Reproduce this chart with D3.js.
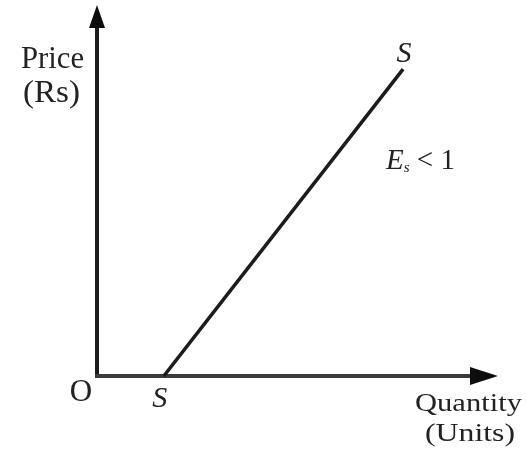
<!DOCTYPE html>
<html>
<head>
<meta charset="utf-8">
<script src="https://cdn.jsdelivr.net/npm/d3@7"></script>
<style>
  html, body { margin: 0; padding: 0; background: #fff; }
  svg { display: block; }
  text { font-family: "Liberation Serif", "DejaVu Serif", serif; fill: #222; }
</style>
</head>
<body>
<svg id="chart" width="527" height="451"></svg>
<script>
// Supply curve S–S (quantity, price) in arbitrary units
const supplyQuantity = [2, 9.16];
const supplyPrice = [0, 9.1];
const quantityDomain = [0, 12];
const priceDomain = [0, 11];
const axisTitles = { y: ["Price", "(Rs)"], x: ["Quantity", "(Units)"] };

const svg = d3.select("#chart");
const origin = { x: 97, y: 376 };

const x = d3.scaleLinear().domain(quantityDomain).range([origin.x, 498]);
const y = d3.scaleLinear().domain(priceDomain).range([origin.y, 5]);

const defs = svg.append("defs");
defs.append("filter").attr("id", "soft")
  .append("feGaussianBlur").attr("stdDeviation", 0.5);

const g = svg.append("g").attr("filter", "url(#soft)");

// Axes
g.append("line")
  .attr("x1", x(0)).attr("y1", y(0) + 2)
  .attr("x2", x(0)).attr("y2", y(priceDomain[1]) + 18)
  .attr("stroke", "#1a1a1a").attr("stroke-width", 4);
g.append("line")
  .attr("x1", x(0) - 2).attr("y1", y(0))
  .attr("x2", x(quantityDomain[1]) - 22).attr("y2", y(0))
  .attr("stroke", "#3a3a3a").attr("stroke-width", 4);

// Arrow heads
const ty = y(priceDomain[1]), tx = x(0);
g.append("path")
  .attr("d", `M${tx},${ty} L${tx - 8},${ty + 23} L${tx + 8},${ty + 23} Z`)
  .attr("fill", "#111");
const ax = x(quantityDomain[1]), ay = y(0);
g.append("path")
  .attr("d", `M${ax},${ay} L${ax - 28},${ay - 9} L${ax - 28},${ay + 9} Z`)
  .attr("fill", "#111");

// Supply line
const pts = supplyQuantity.map((q, i) => [x(q), y(supplyPrice[i])]);
g.append("path")
  .attr("d", d3.line()(pts))
  .attr("stroke", "#1a1a1a").attr("stroke-width", 3.5).attr("fill", "none");

// Axis titles
const ytitle = g.append("text").attr("font-size", 31);
ytitle.append("tspan").attr("x", 21).attr("y", 68)
  .attr("textLength", 63).attr("lengthAdjust", "spacingAndGlyphs").text(axisTitles.y[0]);
ytitle.append("tspan").attr("x", 23).attr("y", 102)
  .attr("textLength", 57).attr("lengthAdjust", "spacingAndGlyphs").text(axisTitles.y[1]);

const xtitle = g.append("text").attr("font-size", 26);
xtitle.append("tspan").attr("x", 415).attr("y", 411)
  .attr("textLength", 107).attr("lengthAdjust", "spacingAndGlyphs").text(axisTitles.x[0]);
xtitle.append("tspan").attr("x", 425).attr("y", 441)
  .attr("textLength", 90).attr("lengthAdjust", "spacingAndGlyphs").text(axisTitles.x[1]);

// Point labels
g.append("text").attr("x", 81).attr("y", 401).attr("text-anchor", "middle")
  .attr("font-size", 31).text("O");

g.append("text").attr("x", pts[0][0] - 4).attr("y", 407).attr("text-anchor", "middle")
  .attr("font-size", 30).attr("font-style", "italic").text("S");
g.append("text").attr("x", pts[1][0] + 1).attr("y", 62).attr("text-anchor", "middle")
  .attr("font-size", 30).attr("font-style", "italic").text("S");

const es = g.append("text").attr("x", 386).attr("y", 169).attr("font-size", 29);
es.append("tspan").attr("font-style", "italic").text("E");
es.append("tspan").attr("font-size", 15).attr("font-style", "italic").attr("dy", 3).text("s");
es.append("tspan").attr("dy", -3).text(" < 1");
</script>
</body>
</html>
